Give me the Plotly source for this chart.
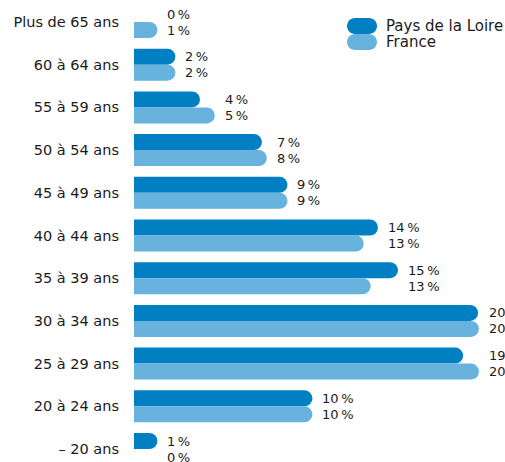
import plotly.graph_objects as go

categories = ["Plus de 65 ans", "60 à 64 ans", "55 à 59 ans", "50 à 54 ans", "45 à 49 ans",
              "40 à 44 ans", "35 à 39 ans", "30 à 34 ans", "25 à 29 ans", "20 à 24 ans", "– 20 ans"]
pays_de_la_loire = [0.0, 2.35, 3.75, 7.27, 8.72, 13.86, 15.0, 19.55, 18.7, 10.14, 1.33]
france = [1.33, 2.35, 4.59, 7.55, 8.72, 13.05, 13.45, 19.6, 19.6, 10.14, 0.0]
series_names = ["Pays de la Loire", "France"]
colors = ["#0080C3", "#68B3DD"]

W, H = 505, 462
ML, MR, MT, MB = 134, 0, 0, 0
PW, PH = W - ML - MR, H - MT - MB
FONT = "DejaVu Sans, sans-serif"
TXT = "#1a1a1a"

def px_to_paper(px, py):
    return (px - ML) / PW, 1 - (py - MT) / PH

k = 42.7
r0 = -22 / k
r1 = r0 + PH / k

fig = go.Figure()
for name, vals, col in zip(series_names, [pays_de_la_loire, france], colors):
    fig.add_trace(go.Bar(y=categories, x=vals, name=name, orientation="h",
                         marker=dict(color=col, line=dict(width=0)), showlegend=False,
                         hoverinfo="skip"))

annotations = []
for cat, a, b in zip(categories, pays_de_la_loire, france):
    xm = max(a, b)
    for v, ys in ((a, 8), (b, -8)):
        annotations.append(dict(x=xm, y=cat, xref="x", yref="y", text=f"{round(v)}\u202f%",
                                showarrow=False, xanchor="left", yanchor="middle",
                                xshift=8, yshift=ys, font=dict(family=FONT, size=13, color=TXT)))

pill = ("M-7,-8 L7,-8 C11.4,-8 15,-4.4 15,0 C15,4.4 11.4,8 7,8 L-7,8 "
        "C-11.4,8 -15,4.4 -15,0 C-15,-4.4 -11.4,-8 -7,-8 Z")
shapes = []
for i, (name, col) in enumerate(zip(series_names, colors)):
    cy = 26 + 16 * i
    ax, ay = px_to_paper(362, cy)
    shapes.append(dict(type="path", xref="paper", yref="paper", xsizemode="pixel", ysizemode="pixel",
                       xanchor=ax, yanchor=ay, path=pill, fillcolor=col, line=dict(width=0)))
    tx, ty = px_to_paper(384, cy)
    annotations.append(dict(x=tx, y=ty, xref="paper", yref="paper", text=name, showarrow=False,
                            xanchor="left", yanchor="middle",
                            font=dict(family=FONT, size=15, color=TXT)))

fig.update_layout(
    width=W, height=H, margin=dict(l=ML, r=MR, t=MT, b=MB, autoexpand=False),
    paper_bgcolor="white", plot_bgcolor="white",
    barmode="group", bargap=0.25, bargroupgap=0, barcornerradius="50%",
    font=dict(family=FONT, size=13, color=TXT),
    xaxis=dict(range=[0, PW / 17.6], visible=False, fixedrange=True),
    yaxis=dict(type="category", range=[r1, r0], showgrid=False, zeroline=False,
               showline=False, ticks="", ticklabelstandoff=14, automargin=False,
               fixedrange=True, tickfont=dict(family=FONT, size=14.5, color=TXT)),
    annotations=annotations, shapes=shapes, showlegend=False,
)

fig.write_html("out.html", config={"displayModeBar": False, "staticPlot": True},
               post_script="document.body.style.margin='0';document.body.style.overflow='hidden';")
